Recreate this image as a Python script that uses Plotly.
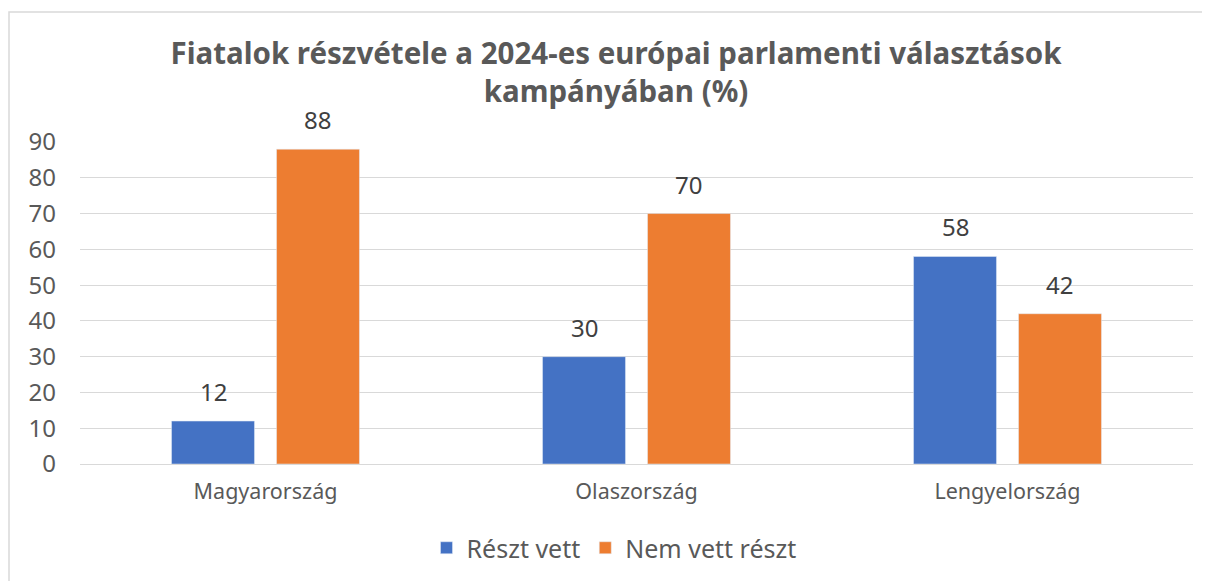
import plotly.graph_objects as go

categories = ["Magyarország", "Olaszország", "Lengyelország"]
reszt_vett = [12, 30, 58]
nem_vett = [88, 70, 42]
series_names = ["Részt vett", "Nem vett részt"]
title_text = "Fiatalok részvétele a 2024-es európai parlamenti választások<br>kampányában (%)"

FONT = "Noto Sans"
OFF = 8  # default page body margin
W, H = 1210 - OFF, 581 - OFF
L = 80 - OFF
T = 142 - OFF
R = W - (1193 - OFF)
B = H - (464 - OFF)
pw, ph = W - L - R, H - T - B

BARGAP = 0.434
GROUPGAP = 0.21
cat_w = pw / len(categories)
slot = cat_w * (1 - BARGAP) / 2

fig = go.Figure()
fig.add_trace(go.Bar(x=categories, y=reszt_vett, name=series_names[0], marker_color="#4472C4"))
fig.add_trace(go.Bar(x=categories, y=nem_vett, name=series_names[1], marker_color="#ED7D31"))

for vals, sh in ((reszt_vett, -slot / 2), (nem_vett, slot / 2)):
    for c, v in zip(categories, vals):
        fig.add_annotation(x=c, y=v, text=str(v), showarrow=False, xshift=sh, yshift=11,
                           yanchor="bottom", font=dict(size=24, color="#404040", family=FONT))

def px(x):
    return (x - OFF - L) / pw

def py(y):
    return (H - B - (y - OFF)) / ph

fig.update_layout(
    width=W, height=H,
    margin=dict(l=L, r=R, t=T, b=B),
    paper_bgcolor="white", plot_bgcolor="white",
    barmode="group", bargap=BARGAP, bargroupgap=GROUPGAP,
    font=dict(family=FONT, color="#595959"),
    title=dict(text="<b>" + title_text + "</b>", x=(616 - OFF) / W, xref="container", xanchor="center",
               y=1 - (64 - OFF) / H, yref="container", yanchor="middle",
               font=dict(size=29.5, color="#595959", family=FONT)),
    legend=dict(orientation="h", x=(614 - OFF) / W, xanchor="center", xref="container",
                y=1 - (548 - OFF) / H, yref="container", yanchor="middle",
                font=dict(size=25, color="#595959", family=FONT),
                itemwidth=30, traceorder="normal"),
    xaxis=dict(showline=False, ticks="", tickfont=dict(size=21.5, color="#595959", family=FONT),
               ticklabelstandoff=12),
    yaxis=dict(range=[0, 90], dtick=10, showgrid=True, gridcolor="#d9d9d9", gridwidth=1.3,
               zeroline=True, zerolinecolor="#d9d9d9", zerolinewidth=1.3,
               tickfont=dict(size=24, color="#595959", family=FONT), ticks="", ticklabelstandoff=23),
    shapes=[dict(type="rect", xref="paper", yref="paper",
                 x0=px(9), x1=px(1230), y0=py(600), y1=py(12),
                 line=dict(color="#d9d9d9", width=1.5), fillcolor="rgba(0,0,0,0)", layer="below")],
)

fig.write_html("out.html")
